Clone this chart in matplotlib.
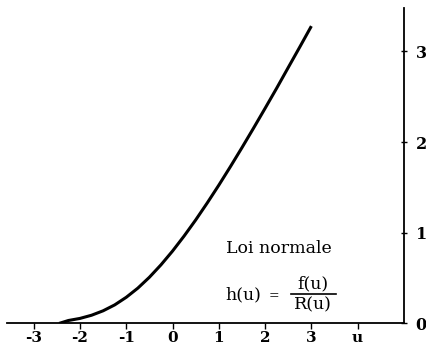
import matplotlib
matplotlib.use('Agg')
import matplotlib.pyplot as plt

u = [-2.45, -2.25, -2.0, -1.75, -1.5, -1.25, -1.0, -0.75, -0.5, -0.25, 0.0,
     0.25, 0.5, 0.75, 1.0, 1.25, 1.5, 1.75, 2.0, 2.25, 2.5, 2.75, 3.0]
h = [0.0, 0.032, 0.055, 0.09, 0.139, 0.204, 0.288, 0.389, 0.509, 0.646, 0.798,
     0.964, 1.141, 1.329, 1.525, 1.729, 1.939, 2.154, 2.373, 2.595, 2.823, 3.05, 3.28]

xticks = [-3, -2, -1, 0, 1, 2, 3, 4]
xlabels = ['-3', '-2', '-1', '0', '1', '2', '3', 'u']
yticks = [0, 1, 2, 3]
ylabels = ['0', '1', '2', '3']

font = 'DejaVu Serif'

fig = plt.figure(figsize=(4.27, 3.47), dpi=100)
ax = fig.add_axes([0.016, 0.068, 0.930, 0.909])

ax.plot(u, h, color='black', lw=2.2, solid_capstyle='butt')

ax.set_xlim(-3.58, 5.0)
ax.set_ylim(0, 3.48)
ax.spines['top'].set_visible(False)
ax.spines['left'].set_visible(False)
ax.spines['bottom'].set_linewidth(1.3)
ax.spines['right'].set_linewidth(1.3)

ax.set_xticks(xticks)
ax.set_xticklabels(xlabels, fontfamily=font, fontweight='bold', fontsize=11)
ax.tick_params(axis='x', direction='out', length=4, width=1, pad=1.5)

ax.yaxis.tick_right()
ax.set_yticks(yticks)
ax.set_yticklabels(ylabels, fontfamily=font, fontweight='bold', fontsize=11.5)
ax.tick_params(axis='y', direction='inout', length=5, width=1, pad=6)

ax.text(1.15, 0.83, 'Loi normale', fontfamily=font, fontsize=12.5,
        va='center', ha='left')
ax.text(1.14, 0.31, 'h(u)', fontfamily=font, fontsize=12.5,
        va='center', ha='left')
ax.text(2.2, 0.31, '=', fontfamily=font, fontsize=9, va='center', ha='center')
ax.text(3.04, 0.44, 'f(u)', fontfamily=font, fontsize=12.5,
        va='center', ha='center')
ax.text(3.04, 0.20, 'R(u)', fontfamily=font, fontsize=12.5,
        va='center', ha='center')
ax.plot([2.55, 3.54], [0.32, 0.32], color='black', lw=1.2)

plt.savefig('out.png', dpi=100)
